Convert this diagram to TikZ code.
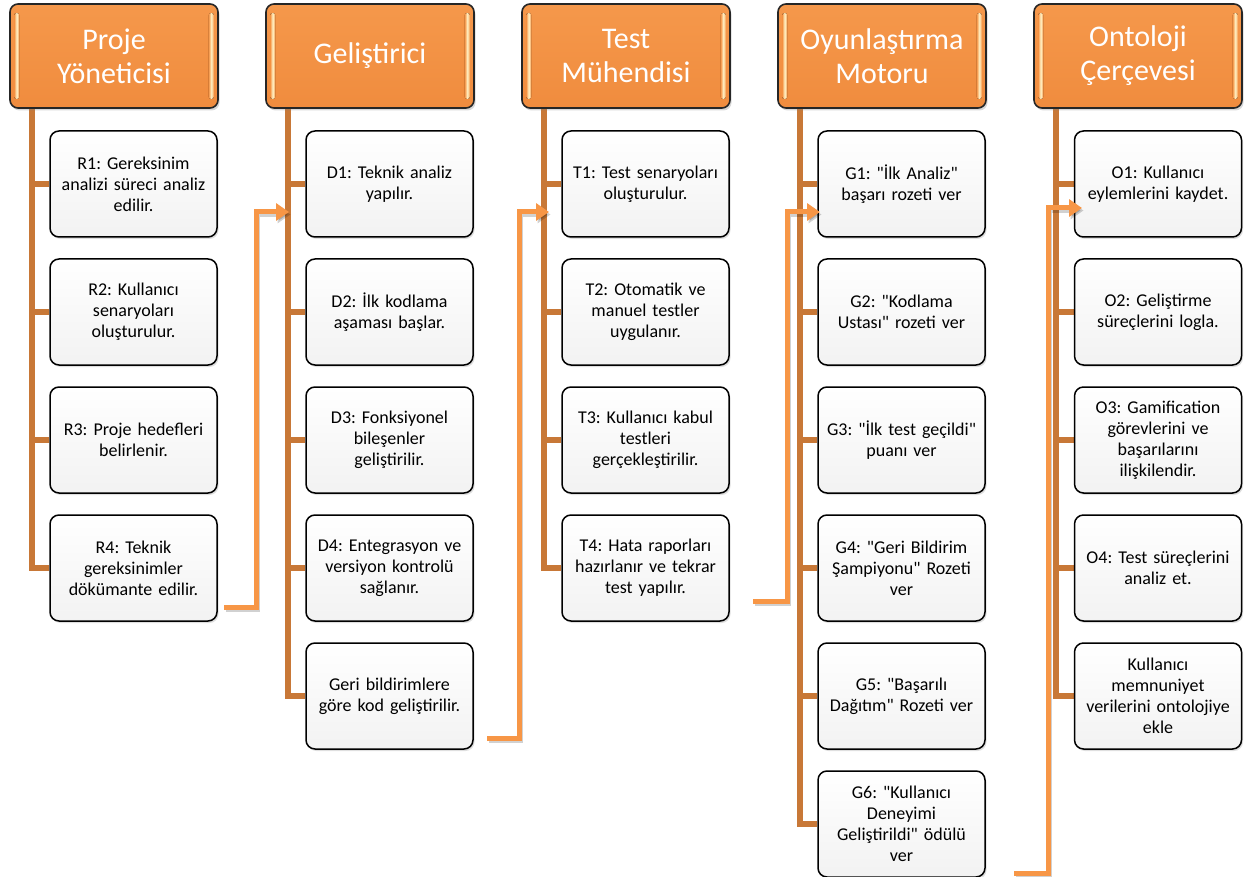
\documentclass[tikz,border=0pt]{standalone}
\usepackage{fontspec}
\setmainfont{Carlito}
\newfontfamily\calfont{Carlito}
\frenchspacing
\usetikzlibrary{arrows.meta,shadows,calc,backgrounds}
\definecolor{hdrorange}{RGB}{245,152,75}
\definecolor{hdrdark}{RGB}{240,140,62}
\definecolor{hilite}{RGB}{255,244,200}
\definecolor{trunkc}{RGB}{200,120,55}
\definecolor{arrowc}{RGB}{247,150,70}
\tikzset{
  hdr/.style={draw=black!85, line width=1.6pt, rounded corners=8pt,
    minimum width=208pt, minimum height=104pt, inner sep=0pt, text=white,
    align=center, font=\calfont\fontsize{30}{34}\selectfont,
    top color=hdrorange, bottom color=hdrdark,
    drop shadow={shadow xshift=1.5pt, shadow yshift=-2.5pt, opacity=0.3}},
  item/.style={draw=black, line width=1.5pt, rounded corners=9pt,
    minimum width=167pt, minimum height=106pt, text width=160pt,
    align=center, inner sep=0pt, font=\calfont\fontsize{18}{21}\selectfont,
    top color=white, bottom color=black!5,
    drop shadow={shadow xshift=1.5pt, shadow yshift=-2pt, opacity=0.25}},
  trunk/.style={draw=trunkc, line width=6pt},
  flow/.style={draw=arrowc, line width=5pt, -{Triangle[length=13pt,width=17pt]}},
  flowshadow/.style={draw=black, opacity=0.18, line width=5pt, -{Triangle[length=13pt,width=17pt]}},
  glint/.style={left color=hdrorange, right color=hdrorange, middle color=hilite, rounded corners=2pt},
}
\begin{document}
\begin{tikzpicture}[x=1pt,y=-1pt]
\useasboundingbox (0,0) rectangle (1255,877);

% headers
\node[hdr] (h1) at (114,56) {Proje\\Yöneticisi};
\node[hdr] (h2) at (370,56) {Geliştirici};
\node[hdr] (h3) at (626,56) {Test\\Mühendisi};
\node[hdr] (h4) at (882,56) {Oyunlaştırma\\Motoru};
\node[hdr] (h5) at (1138,56) {Ontoloji\\Çerçevesi};
\foreach \h in {h1,h2,h3,h4,h5}{
  \fill[glint] ($(\h.north west)+(5,10)$) rectangle ($(\h.south west)+(10,-10)$);
  \fill[glint] ($(\h.north east)+(-10,10)$) rectangle ($(\h.south east)+(-5,-10)$);
}

% column 1
\node[item] (r1) at (133.5,184) {R1: Gereksinim\\analizi süreci analiz\\edilir.};
\node[item] (r2) at (133.5,312) {R2: Kullanıcı\\senaryoları\\oluşturulur.};
\node[item] (r3) at (133.5,440) {R3: Proje hedefleri\\belirlenir.};
\node[item] (r4) at (133.5,568) {R4: Teknik\\gereksinimler\\dökümante edilir.};
% column 2
\node[item] (d1) at (389.5,184) {D1: Teknik analiz\\yapılır.};
\node[item] (d2) at (389.5,312) {D2: İlk kodlama\\aşaması başlar.};
\node[item] (d3) at (389.5,440) {D3: Fonksiyonel\\bileşenler\\geliştirilir.};
\node[item] (d4) at (389.5,568) {D4: Entegrasyon ve\\versiyon kontrolü\\sağlanır.};
\node[item] (d5) at (389.5,696) {Geri bildirimlere\\göre kod geliştirilir.};
% column 3
\node[item] (t1) at (645.5,184) {T1: Test senaryoları\\oluşturulur.};
\node[item] (t2) at (645.5,312) {T2: Otomatik ve\\manuel testler\\uygulanır.};
\node[item] (t3) at (645.5,440) {T3: Kullanıcı kabul\\testleri\\gerçekleştirilir.};
\node[item] (t4) at (645.5,568) {T4: Hata raporları\\hazırlanır ve tekrar\\test yapılır.};
% column 4
\node[item] (g1) at (901.5,184) {G1: "İlk Analiz"\\başarı rozeti ver};
\node[item] (g2) at (901.5,312) {G2: "Kodlama\\Ustası" rozeti ver};
\node[item] (g3) at (901.5,440) {G3: "İlk test geçildi"\\puanı ver};
\node[item] (g4) at (901.5,568) {G4: "Geri Bildirim\\Şampiyonu" Rozeti\\ver};
\node[item] (g5) at (901.5,696) {G5: "Başarılı\\Dağıtım" Rozeti ver};
\node[item] (g6) at (901.5,824) {G6: "Kullanıcı\\Deneyimi\\Geliştirildi" ödülü\\ver};
% column 5
\node[item] (o1) at (1158,184) {O1: Kullanıcı\\eylemlerini kaydet.};
\node[item] (o2) at (1158,312) {O2: Geliştirme\\süreçlerini logla.};
\node[item] (o3) at (1158,440) {O3: Gamification\\görevlerini ve\\başarılarını\\ilişkilendir.};
\node[item] (o4) at (1158,568) {O4: Test süreçlerini\\analiz et.};
\node[item] (o5) at (1158,696) {Kullanıcı\\memnuniyet\\verilerini ontolojiye\\ekle};

% trunks
\begin{scope}[on background layer]
  \fill[white] (0,0) rectangle (1255,877);
  \coordinate (k1) at ([xshift=22.5pt]h1.south west);
  \coordinate (k2) at ([xshift=22.5pt]h2.south west);
  \coordinate (k3) at ([xshift=22.5pt]h3.south west);
  \coordinate (k4) at ([xshift=22.5pt]h4.south west);
  \coordinate (k5) at ([xshift=22.5pt]h5.south west);
  \draw[trunk] (k1) |- (r4.west);
  \foreach \n in {r1,r2,r3} \draw[trunk] (k1 |- \n.west) -- (\n.west);
  \draw[trunk] (k2) |- (d5.west);
  \foreach \n in {d1,d2,d3,d4} \draw[trunk] (k2 |- \n.west) -- (\n.west);
  \draw[trunk] (k3) |- (t4.west);
  \foreach \n in {t1,t2,t3} \draw[trunk] (k3 |- \n.west) -- (\n.west);
  \draw[trunk] (k4) |- (g6.west);
  \foreach \n in {g1,g2,g3,g4,g5} \draw[trunk] (k4 |- \n.west) -- (\n.west);
  \draw[trunk] (k5) |- (o5.west);
  \foreach \n in {o1,o2,o3,o4} \draw[trunk] (k5 |- \n.west) -- (\n.west);
\end{scope}

% flow arrows between columns
\coordinate (a1s) at (224,607);  \coordinate (a1e) at (289,212);
\coordinate (a2s) at (487,738);  \coordinate (a2e) at (549,212);
\coordinate (a3s) at (753,601);  \coordinate (a3e) at (820,212);
\coordinate (a4s) at (1014,873); \coordinate (a4e) at (1082,208);
\begin{scope}[transform canvas={xshift=1.5pt,yshift=-2.5pt}]
  \draw[flowshadow] (a1s) -- ++(32,0) |- (a1e);
  \draw[flowshadow] (a2s) -- ++(32,0) |- (a2e);
  \draw[flowshadow] (a3s) -- ++(34,0) |- (a3e);
  \draw[flowshadow] (a4s) -- ++(34,0) |- (a4e);
\end{scope}
\draw[flow] (a1s) -- ++(32,0) |- (a1e);
\draw[flow] (a2s) -- ++(32,0) |- (a2e);
\draw[flow] (a3s) -- ++(34,0) |- (a3e);
\draw[flow] (a4s) -- ++(34,0) |- (a4e);
\end{tikzpicture}
\end{document}
